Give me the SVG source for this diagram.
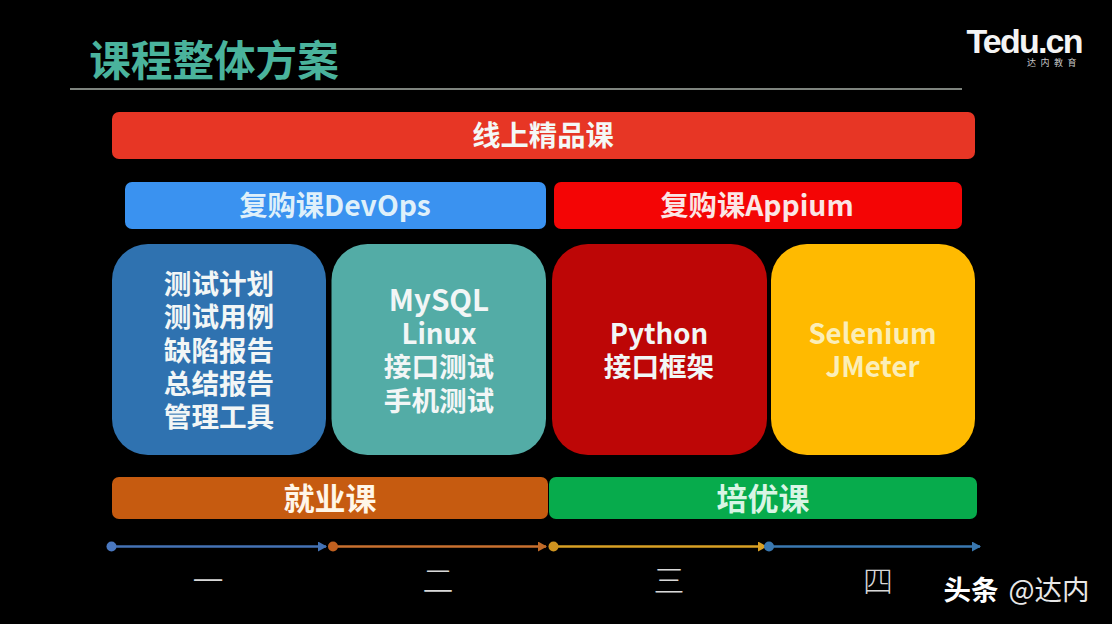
<svg xmlns="http://www.w3.org/2000/svg" width="1112" height="624" viewBox="0 0 1112 624">
<defs>
<style>
text{font-family:"Noto Sans CJK SC","Noto Sans",sans-serif;text-anchor:middle}
.b{font-weight:700;fill:#f4f8f6;font-size:28.3px}
.j{font-weight:700;font-size:31px}
.c{font-weight:700;fill:#f2f6f6;font-size:27.6px}
.y{fill:#fbeeb8}
.n{font-weight:300;fill:#d8d8d8;font-size:31px}
.l{stroke-width:2.6;fill:none}
</style>
<marker id="aB" markerWidth="10" markerHeight="10" refX="8" refY="5" orient="auto" markerUnits="userSpaceOnUse"><path d="M0 0L9 5L0 10Z" fill="#4472b4"/></marker>
<marker id="aO" markerWidth="10" markerHeight="10" refX="8" refY="5" orient="auto" markerUnits="userSpaceOnUse"><path d="M0 0L9 5L0 10Z" fill="#c06a28"/></marker>
<marker id="aY" markerWidth="10" markerHeight="10" refX="8" refY="5" orient="auto" markerUnits="userSpaceOnUse"><path d="M0 0L9 5L0 10Z" fill="#d9a024"/></marker>
<marker id="aT" markerWidth="10" markerHeight="10" refX="8" refY="5" orient="auto" markerUnits="userSpaceOnUse"><path d="M0 0L9 5L0 10Z" fill="#3a78b0"/></marker>
</defs>
<rect width="1112" height="624" fill="#000"/>
<g id="title"><text x="214" y="76" font-weight="700" fill="#4ab39c" style="font-size:41.6px">课程整体方案</text><line x1="70" y1="89" x2="962" y2="89" stroke="#a8b1a9" stroke-width="1.4"/></g>
<g id="logo"><text style="font-size:9px" fill="#c8c8c8"><tspan x="1024" y="53" style="font-family:'Liberation Sans',sans-serif;font-size:34px;font-weight:700;letter-spacing:-1.8px" fill="#f4f4f4">Tedu.cn</tspan><tspan x="1054" y="66" style="letter-spacing:4.5px">达内教育</tspan></text></g>
<g id="online"><rect x="112" y="112" width="863" height="47" rx="7" fill="#e73625"/><text class="b" x="543" y="146">线上精品课</text></g>
<g id="devops"><rect x="125" y="182" width="421" height="47" rx="7" fill="#3a92f0"/><text class="b" x="335" y="216" style="fill:#dff0fa">复购课DevOps</text></g>
<g id="appium"><rect x="554" y="182" width="408" height="47" rx="7" fill="#f40505"/><text class="b" x="757" y="216" style="fill:#fbe6e6">复购课Appium</text></g>
<g id="box1"><rect x="112" y="244" width="214" height="211" rx="36" fill="#2f72b0"/><text class="c"><tspan x="219" y="294">测试计划</tspan><tspan x="219" y="327">测试用例</tspan><tspan x="219" y="361">缺陷报告</tspan><tspan x="219" y="394">总结报告</tspan><tspan x="219" y="427">管理工具</tspan></text></g>
<g id="box2"><rect x="331.500" y="244" width="214.500" height="211" rx="36" fill="#53aca6"/><text class="c"><tspan x="439" y="311" style="font-size:29.500px">MySQL</tspan><tspan x="439" y="344">Linux</tspan><tspan x="439" y="377">接口测试</tspan><tspan x="439" y="411">手机测试</tspan></text></g>
<g id="box3"><rect x="552" y="244" width="215" height="211" rx="36" fill="#bd0606"/><text class="c"><tspan x="659" y="344">Python</tspan><tspan x="659" y="377">接口框架</tspan></text></g>
<g id="box4"><rect x="771" y="244" width="204" height="211" rx="36" fill="#ffba00"/><text class="c y" style="fill:#fbeeb8"><tspan x="872.500" y="344">Selenium</tspan><tspan x="872.500" y="377">JMeter</tspan></text></g>
<g id="job"><rect x="112" y="477" width="436" height="42" rx="7" fill="#c65b10"/><text class="j" x="330" y="510" fill="#fff6e8">就业课</text></g>
<g id="advance"><rect x="549" y="477" width="428" height="42" rx="7" fill="#07ab4c"/><text class="j" x="763" y="510" fill="#d8f5e4">培优课</text></g>
<g id="connectors">
<line class="l" x1="112" y1="546.500" x2="326" y2="546.500" stroke="#4472b4" marker-end="url(#aB)"/>
<line class="l" x1="333" y1="546.500" x2="546" y2="546.500" stroke="#c9702f" marker-end="url(#aO)"/>
<line class="l" x1="554" y1="546.500" x2="766" y2="546.500" stroke="#d9a024" marker-end="url(#aY)"/>
<line class="l" x1="769" y1="546.500" x2="980" y2="546.500" stroke="#3a78b0" marker-end="url(#aT)"/>
<circle cx="111.500" cy="546.500" r="5" fill="#4a78c0"/><circle cx="333" cy="546.500" r="5" fill="#c0601f"/><circle cx="553.500" cy="546.500" r="5" fill="#d09420"/><circle cx="769" cy="546.500" r="5" fill="#3a78b0"/>
</g>
<g id="periods"><text class="n" x="208" y="592">一</text><text class="n" x="438" y="592">二</text><text class="n" x="669" y="592">三</text><text class="n" x="878" y="592" style="font-size:30px">四</text></g>
<g id="watermark"><text x="971" y="600" style="font-size:27.500px;font-weight:700" fill="#fff">头条</text><text x="1049" y="600" style="font-size:27.500px;font-weight:400" fill="#e8e8e8">@达内</text></g>
</svg>
